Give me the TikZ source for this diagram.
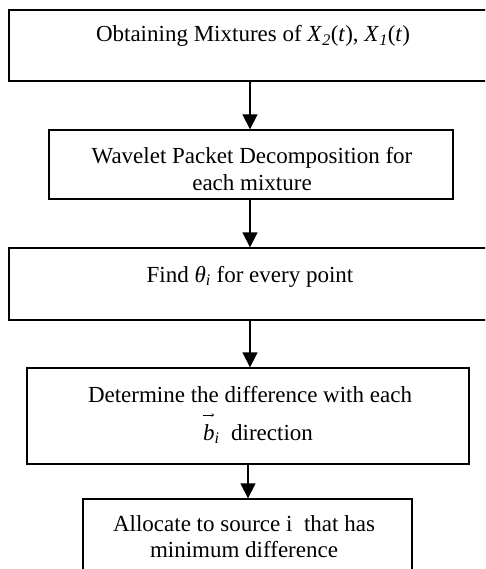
\documentclass[tikz,border=0pt]{standalone}
\usepackage{fontspec}
\setmainfont{Liberation Serif}
\usetikzlibrary{arrows.meta}
\begin{document}
\begin{tikzpicture}[x=1pt,y=-1pt,
  stage/.style={draw=black, line width=1.3pt, inner sep=0pt, rectangle},
  words/.style={font=\fontsize{23}{26}\selectfont, inner sep=0pt, anchor=base, align=center},
  flow/.style={line width=1.3pt, -{Triangle[width=15pt,length=15pt]}}]
\useasboundingbox (0,0) rectangle (485,569);
\clip (0,0) rectangle (485,569);

% process boxes
\node[stage, minimum width=482pt, minimum height=71pt] (b1) at (250,45.5) {};
\node[stage, minimum width=404pt, minimum height=69pt] (b2) at (251,164.5) {};
\node[stage, minimum width=482pt, minimum height=72pt] (b3) at (250,284) {};
\node[stage, minimum width=442pt, minimum height=96pt] (b4) at (248,416) {};
\node[stage, minimum width=329pt, minimum height=92pt] (b5) at (247.5,545) {};

% box texts (base anchor sits on the last line)
\node[words] (t1) at (253,42) {Obtaining Mixtures of \textit{X}\textsubscript{\textit{2}}(\textit{t}), \textit{X}\textsubscript{\textit{1}}(\textit{t})};
\node[words] (t2) at (252,190) {Wavelet Packet Decomposition for\\each mixture};
\node[words] (t3) at (250,282) {Find \textit{θ}\textsubscript{\textit{i}} for every point};
\node[words] (t4) at (250,402) {Determine the difference with each};
\node[words, anchor=base west] (t4b) at (203,440) {\textit{b}\textsubscript{\textit{i}}\ \ direction};
\draw[line width=0.6pt, -{To[length=2.5pt,width=3.5pt]}] ([yshift=25pt]t4b.base west) -- ++(11pt,0);
\node[words] (t5) at (244,557) {Allocate to source i\ \ that has\\minimum difference};

% connectors
\draw[flow] (b1.south) -- (b1.south |- b2.north);
\draw[flow] (b3.north |- b2.south) -- (b3.north);
\draw[flow] (b3.south) -- (b3.south |- b4.north);
\draw[flow] (b4.south) -- (b4.south |- b5.north);
\end{tikzpicture}
\end{document}
